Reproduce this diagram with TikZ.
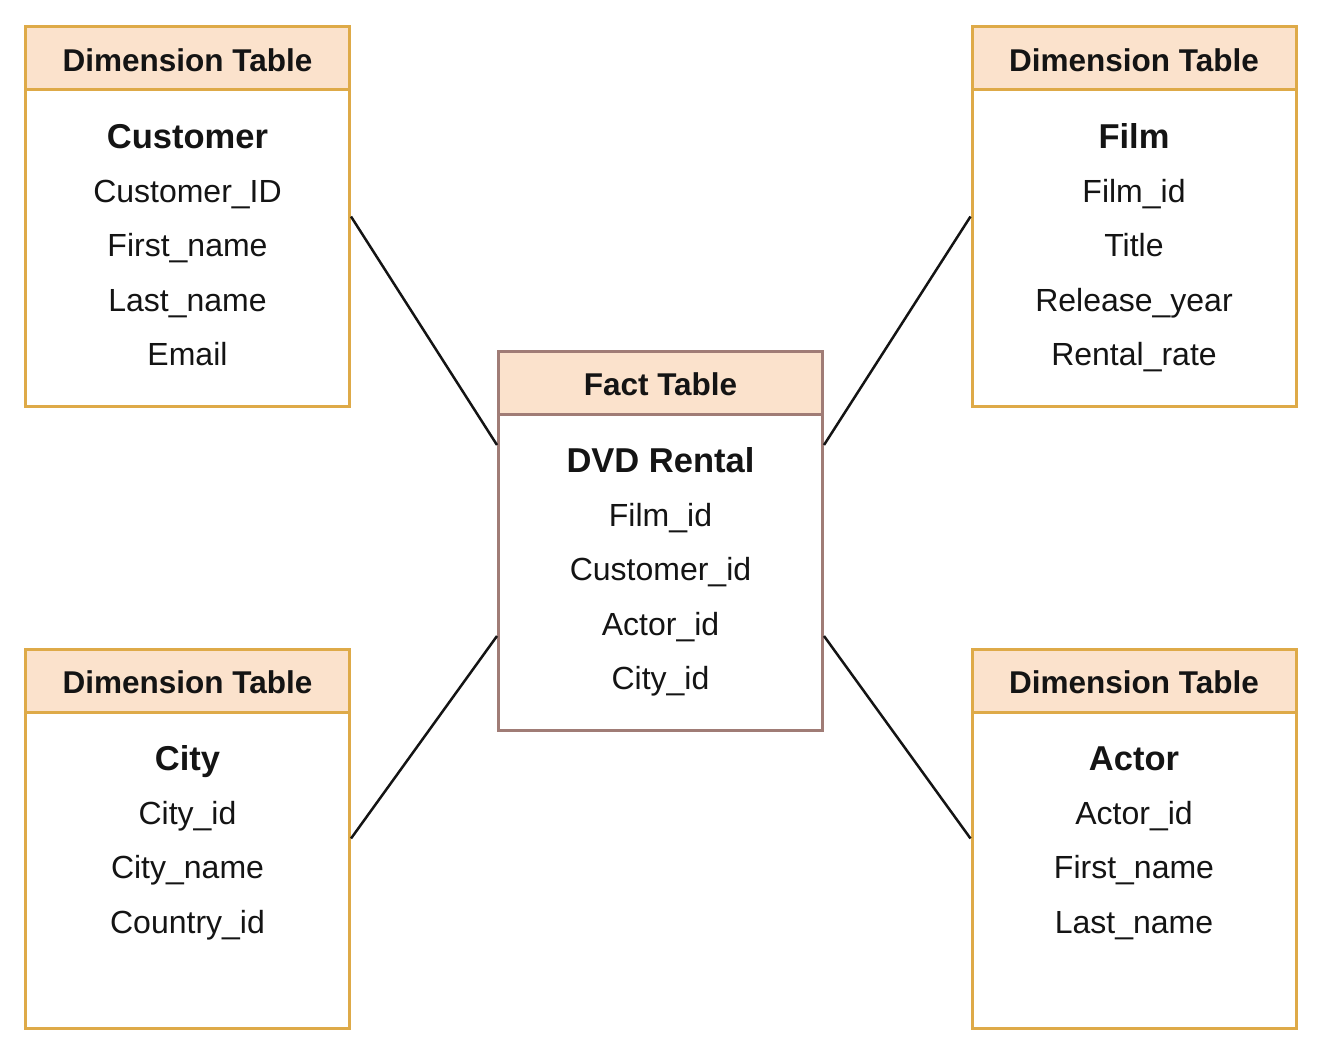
\documentclass[tikz,border=0pt]{standalone}
\usepackage{fontspec}
\setmainfont{Liberation Sans}
\usepackage{tikz}
\usetikzlibrary{positioning,calc}
\definecolor{dimline}{RGB}{222,170,72}
\definecolor{factline}{RGB}{160,124,118}
\definecolor{headfill}{RGB}{251,226,204}
\definecolor{ink}{RGB}{20,20,20}

\begin{document}
\begin{tikzpicture}[x=1pt,y=-1pt,
  dimbox/.style={draw=dimline,line width=3pt,fill=white,minimum width=324pt,minimum height=379pt,inner sep=0pt},
  factbox/.style={dimbox,draw=factline},
  headbox/.style={draw=#1,line width=3pt,fill=headfill,anchor=north,minimum width=324pt,minimum height=63pt,inner sep=0pt,
                  text=ink,text height=25.5pt,text depth=0pt,font=\fontsize{31.5}{36}\selectfont\bfseries},
  tabtitle/.style={text=ink,text height=24.7pt,text depth=0pt,inner sep=0pt,font=\fontsize{34.5}{40}\selectfont\bfseries},
  field/.style={text=ink,text height=22.9pt,text depth=0pt,inner sep=0pt,font=\fontsize{32}{38}\selectfont},
  link/.style={line width=2.5pt,ink}]
  \useasboundingbox (0,0) rectangle (1322,1046);
  % fact table
  \node[factbox] (fact) at (660.5,540.5) {};
  \node[headbox=factline] (fact-h) at (fact.north) {Fact Table};
  \node[tabtitle] (fact-t) at ($(fact.north)+(0,111)$) {DVD Rental};
  \foreach \f [count=\i] in {Film\_id,Customer\_id,Actor\_id,City\_id}
    \node[field] (fact-\i) at ($(fact-t)+(0,54.5*\i)$) {\f};
  \coordinate (fact-w1) at ($(fact.north west)!0.25!(fact.south west)$);
  \coordinate (fact-w2) at ($(fact.north west)!0.75!(fact.south west)$);
  \coordinate (fact-e1) at ($(fact.north east)!0.25!(fact.south east)$);
  \coordinate (fact-e2) at ($(fact.north east)!0.75!(fact.south east)$);
  % dimension tables
  \node[dimbox] (cust) at (187.5,216.5) {};
  \node[headbox=dimline] (cust-h) at (cust.north) {Dimension Table};
  \node[tabtitle] (cust-t) at ($(cust.north)+(0,111)$) {Customer};
  \foreach \f [count=\i] in {Customer\_ID,First\_name,Last\_name,Email}
    \node[field] (cust-\i) at ($(cust-t)+(0,54.5*\i)$) {\f};
  \node[dimbox] (film) at (1134,216.5) {};
  \node[headbox=dimline] (film-h) at (film.north) {Dimension Table};
  \node[tabtitle] (film-t) at ($(film.north)+(0,111)$) {Film};
  \foreach \f [count=\i] in {Film\_id,Title,Release\_year,Rental\_rate}
    \node[field] (film-\i) at ($(film-t)+(0,54.5*\i)$) {\f};
  \node[dimbox] (city) at (187.5,838.5) {};
  \node[headbox=dimline] (city-h) at (city.north) {Dimension Table};
  \node[tabtitle] (city-t) at ($(city.north)+(0,111)$) {City};
  \foreach \f [count=\i] in {City\_id,City\_name,Country\_id}
    \node[field] (city-\i) at ($(city-t)+(0,54.5*\i)$) {\f};
  \node[dimbox] (actor) at (1134,838.5) {};
  \node[headbox=dimline] (actor-h) at (actor.north) {Dimension Table};
  \node[tabtitle] (actor-t) at ($(actor.north)+(0,111)$) {Actor};
  \foreach \f [count=\i] in {Actor\_id,First\_name,Last\_name}
    \node[field] (actor-\i) at ($(actor-t)+(0,54.5*\i)$) {\f};
  % links
  \draw[link] (cust.east) -- (fact-w1);
  \draw[link] (film.west) -- (fact-e1);
  \draw[link] (city.east) -- (fact-w2);
  \draw[link] (actor.west) -- (fact-e2);
\end{tikzpicture}
\end{document}
